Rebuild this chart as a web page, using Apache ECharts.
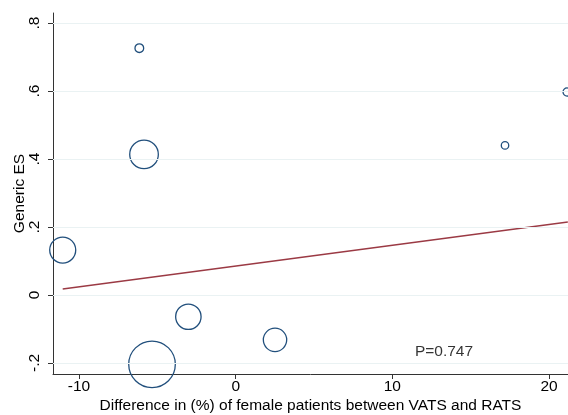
<!DOCTYPE html>
<html>
<head>
<meta charset="utf-8">
<script src="https://cdn.jsdelivr.net/npm/echarts@6/dist/echarts.min.js"></script>
<style>html,body{margin:0;padding:0;background:#fff}#c{width:568px;height:415px}</style>
</head>
<body>
<div id="c"></div>
<script>
// ---- data ----
const diffPct   = [-11.04, -6.15, -5.85, -5.34, -3.02, 2.51, 17.19, 21.15];
const genericES = [0.132, 0.726, 0.4135, -0.204, -0.064, -0.132, 0.44, 0.597];
const weightPct = [13.4, 1.5, 16.2, 43.0, 12.8, 10.8, 1.1, 1.3];
const fitX = [-11.04, 21.2];
const fitY = [0.0176, 0.2147];
const xTicks = [-10, 0, 10, 20];
const xTickLabels = ['-10', '0', '10', '20'];
const yTicks = [-0.2, 0, 0.2, 0.4, 0.6, 0.8];
const yTickLabels = ['-.2', '0', '.2', '.4', '.6', '.8'];
const pText = 'P=0.747';
const pPos = [11.44, -0.166];
const xTitle = 'Difference in (%) of female patients between VATS and RATS';
const yTitle = 'Generic ES';

const FONT = 'Liberation Sans, Arial, sans-serif';
const chart = echarts.init(document.getElementById('c'), null, {renderer: 'canvas'});
const pts = diffPct.map((x, i) => [x, genericES[i], weightPct[i]]);

chart.setOption({
  animation: false,
  backgroundColor: '#fff',
  grid: {left: 53, top: 13, right: 0, bottom: 41, containLabel: false, outerBoundsMode: 'none'},
  xAxis: {
    type: 'value', min: -11.66, max: 21.21,
    axisLine: {onZero: false, lineStyle: {color: '#333', width: 1}},
    axisTick: {customValues: xTicks, length: 5, lineStyle: {color: '#333'}},
    axisLabel: {customValues: xTicks, margin: 5, color: '#000', fontFamily: FONT, fontSize: 15.5,
      formatter: v => xTickLabels[xTicks.indexOf(v)]},
    splitLine: {show: false},
    name: xTitle, nameLocation: 'middle', nameGap: 24, nameMoveOverlap: false,
    nameTextStyle: {color: '#000', fontFamily: FONT, fontSize: 15.5}
  },
  yAxis: {
    type: 'value', min: -0.2324, max: 0.8294,
    axisLine: {show: true, onZero: false, lineStyle: {color: '#333', width: 1}},
    axisTick: {show: true, customValues: yTicks, length: 5, lineStyle: {color: '#333'}},
    axisLabel: {customValues: yTicks, margin: 10, rotate: 90, color: '#000', fontFamily: FONT, fontSize: 15.5,
      formatter: v => yTickLabels[yTicks.findIndex(t => Math.abs(t - v) < 1e-9)]},
    splitLine: {show: false},
    name: yTitle, nameLocation: 'middle', nameGap: 25, nameRotate: 90, nameMoveOverlap: false,
    nameTextStyle: {color: '#000', fontFamily: FONT, fontSize: 15.5}
  },
  series: [
    {
      type: 'line', z: 1, silent: true,
      data: fitX.map((x, i) => [x, fitY[i]]),
      symbol: 'none',
      lineStyle: {color: '#9b3a44', width: 1.3},
      markLine: {
        silent: true, symbol: 'none', label: {show: false},
        lineStyle: {color: '#eaf2f3', width: 1.2, type: 'solid'},
        data: yTicks.map(v => ({yAxis: v}))
      }
    },
    {
      type: 'scatter', z: 3, silent: true,
      data: pts,
      symbol: 'circle',
      symbolSize: d => 7.107 * Math.sqrt(d[2]),
      itemStyle: {color: 'rgba(0,0,0,0)', borderColor: '#214f7c', borderWidth: 1.3, opacity: 1}
    },
    {
      type: 'scatter', z: 4, silent: true,
      data: [pPos],
      symbolSize: 0.001,
      label: {show: true, position: 'right', distance: 0, formatter: pText,
        color: '#000', fontFamily: FONT, fontSize: 15.5}
    }
  ]
});
</script>
</body>
</html>
